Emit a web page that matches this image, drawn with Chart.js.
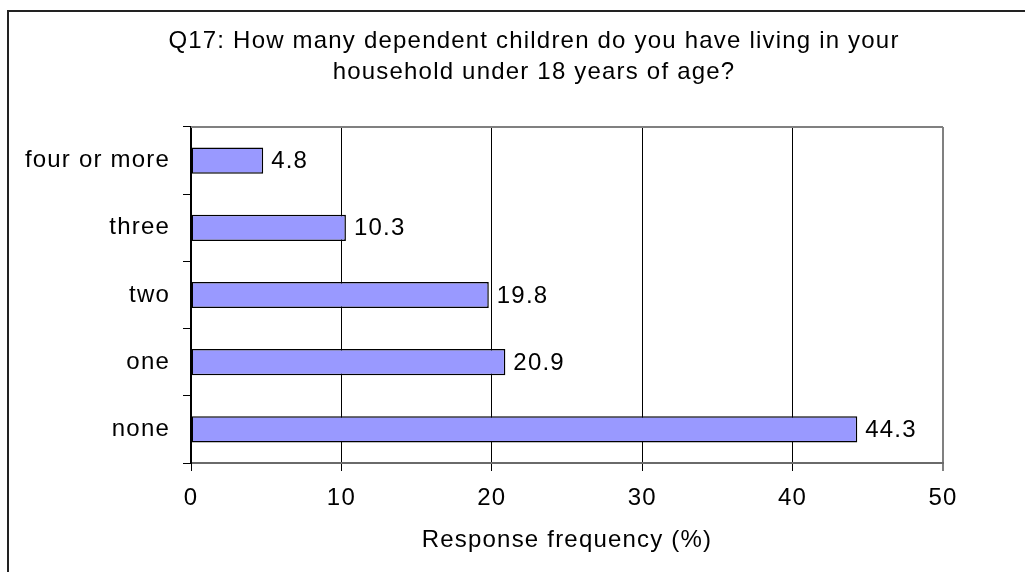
<!DOCTYPE html>
<html>
<head>
<meta charset="utf-8">
<script src="https://cdn.jsdelivr.net/npm/chart.js@4"></script>
<style>
  html, body { margin: 0; padding: 0; background: #fff; overflow: hidden; width: 1025px; height: 572px; }
  #frame { position: absolute; left: 7px; top: 10px; width: 1100px; height: 700px; border: 2px solid #222; box-sizing: border-box; }
  #wrap { position: absolute; left: 0; top: 0; }
</style>
</head>
<body>
<div id="frame"></div>
<div id="wrap"><canvas id="c" width="1068" height="572"></canvas></div>
<script>
// Survey answers, listed top to bottom as they appear on the chart
const categories = ['four or more', 'three', 'two', 'one', 'none'];
const responseFrequency = [4.8, 10.3, 19.8, 20.9, 44.3];
const xTicks = [0, 10, 20, 30, 40, 50];
const titleLines = ['Q17: How many dependent children do you have living in your', 'household under 18 years of age?'];
const xAxisTitle = 'Response frequency (%)';

const FONT = 'Liberation Sans, Arial, sans-serif';
const FS = 24;

// Slightly wider lettering for every text drawn on the canvas
const spacing = {
  id: 'spacing',
  beforeInit(chart) { chart.ctx.letterSpacing = '1.2px'; },
  beforeUpdate(chart) { chart.ctx.letterSpacing = '1.2px'; },
  beforeDraw(chart) { chart.ctx.letterSpacing = '1.2px'; }
};

// Value labels beside each bar, plus the grey top edge of the plot frame
const barLabels = {
  id: 'barLabels',
  afterDatasetsDraw(chart) {
    const ctx = chart.ctx;
    const meta = chart.getDatasetMeta(0);
    ctx.save();
    ctx.font = FS + 'px ' + FONT;
    ctx.fillStyle = '#000';
    ctx.textAlign = 'left';
    ctx.textBaseline = 'middle';
    meta.data.forEach((bar, i) => {
      ctx.fillText(responseFrequency[i].toFixed(1), bar.x + 8, bar.y + 1);
    });
    const a = chart.chartArea;
    ctx.strokeStyle = '#808080';
    ctx.lineWidth = 2;
    ctx.beginPath();
    ctx.moveTo(a.left, a.top);
    ctx.lineTo(a.right, a.top);
    ctx.stroke();
    ctx.restore();
  }
};

new Chart(document.getElementById('c'), {
  type: 'bar',
  data: {
    labels: categories,
    datasets: [{
      data: responseFrequency,
      backgroundColor: '#9999FF',
      borderColor: '#000',
      borderWidth: 1.5,
      borderSkipped: false,
      barPercentage: 0.39,
      categoryPercentage: 1
    }]
  },
  options: {
    indexAxis: 'y',
    responsive: false,
    animation: false,
    layout: { padding: 0 },
    plugins: {
      legend: { display: false },
      tooltip: { enabled: false },
      title: {
        display: true,
        text: titleLines,
        color: '#000',
        font: { family: FONT, size: FS, weight: 'normal', lineHeight: 1.3 },
        padding: { top: 25.5, bottom: 39.1 }
      }
    },
    scales: {
      x: {
        min: 0,
        max: 50,
        afterBuildTicks(scale) { scale.ticks = xTicks.map(v => ({ value: v })); },
        afterFit(scale) { scale.height = 109; },
        ticks: { color: '#000', font: { family: FONT, size: FS }, padding: 13 },
        grid: {
          color: ctx => (ctx.tick && ctx.tick.value === 50 ? '#808080' : '#000'),
          lineWidth: ctx => (ctx.tick && ctx.tick.value === 50 ? 2 : 1),
          tickLength: 8
        },
        border: { color: '#6a6a6a', width: 2 },
        title: {
          display: true,
          text: xAxisTitle,
          color: '#000',
          font: { family: FONT, size: FS },
          padding: { top: 0, bottom: 17 }
        }
      },
      y: {
        afterFit(scale) { scale.width = 191; },
        ticks: { color: '#000', font: { family: FONT, size: FS }, padding: 13 },
        grid: { drawOnChartArea: false, color: '#000', tickLength: 8, offset: true },
        border: { color: '#000', width: 2 }
      },
      // empty margin column on the right of the plot
      margin: {
        axis: 'y',
        type: 'linear',
        position: 'right',
        afterFit(scale) { scale.width = 125; },
        ticks: { display: false },
        grid: { display: false },
        border: { display: false }
      }
    }
  },
  plugins: [spacing, barLabels]
});
</script>
</body>
</html>
